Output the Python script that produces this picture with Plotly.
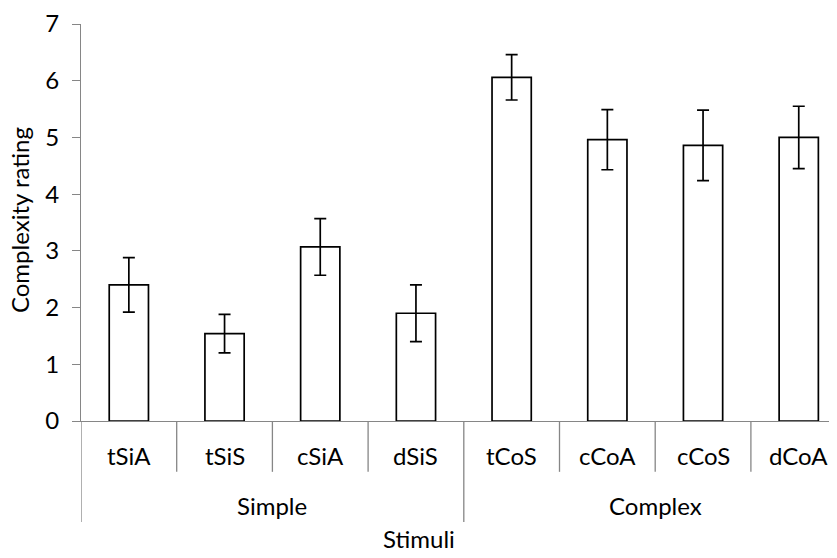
import plotly.graph_objects as go

categories = ["tSiA", "tSiS", "cSiA", "dSiS", "tCoS", "cCoA", "cCoS", "dCoA"]
groups = ["Simple", "Complex"]
group_sizes = [4, 4]
means = [2.40, 1.54, 3.07, 1.90, 6.06, 4.96, 4.86, 5.00]
errors = [0.48, 0.34, 0.50, 0.50, 0.40, 0.53, 0.62, 0.55]
y_ticks = [0, 1, 2, 3, 4, 5, 6, 7]

FONT = "Lato"
FS = 24
GRAY = "#868686"

OFF = 8  # page body margin
W, H = 837 - OFF, 558 - OFF
ML, MT, MB = 81 - OFF, 18 - OFF, 137
plot_h = H - MT - MB
plot_w = W - ML
cat_px = 95.7

xs = list(range(len(categories)))

fig = go.Figure()
fig.add_trace(go.Bar(
    x=xs, y=means, width=0.41,
    marker=dict(color="white", line=dict(color="black", width=1.7)),
    error_y=dict(type="data", array=errors, visible=True, color="black", thickness=1.7, width=6),
    showlegend=False,
))

shapes = []
annotations = []
inner_len = 51.6 / plot_h
outer_len = 102.6 / plot_h

bounds = []
start = 0
for gs in group_sizes:
    bounds.append(start - 0.5)
    start += gs
bounds.append(start - 0.5)
for i in range(len(categories) - 1):
    b = i + 0.5
    if b not in bounds:
        shapes.append(dict(type="line", xref="x", yref="paper", x0=b, x1=b, y0=0, y1=-inner_len,
                           line=dict(color=GRAY, width=1.3)))
for b in bounds:
    shapes.append(dict(type="line", xref="x", yref="paper", x0=b, x1=b, y0=0, y1=-outer_len,
                       line=dict(color=GRAY, width=1.3)))

for i, c in enumerate(categories):
    annotations.append(dict(x=i, y=-34.7 / plot_h, xref="x", yref="paper", text=c, showarrow=False,
                            font=dict(family=FONT, size=FS, color="black"),
                            xanchor="center", yanchor="middle"))
start = 0
for g, gs in zip(groups, group_sizes):
    cx = start + (gs - 1) / 2
    annotations.append(dict(x=cx, y=-85.7 / plot_h, xref="x", yref="paper", text=g, showarrow=False,
                            font=dict(family=FONT, size=FS, color="black"),
                            xanchor="center", yanchor="middle"))
    start += gs

annotations.append(dict(x=(418.5 - 81) / plot_w, y=-119.0 / plot_h, xref="paper", yref="paper",
                        text="Stimuli", showarrow=False, font=dict(family=FONT, size=FS, color="black"),
                        xanchor="center", yanchor="middle"))
annotations.append(dict(x=(19 - 81) / plot_w, y=(421 - 217) / plot_h, xref="paper", yref="paper",
                        text="Complexity rating", textangle=-90, showarrow=False,
                        font=dict(family=FONT, size=FS, color="black"),
                        xanchor="center", yanchor="middle", borderpad=0))

x_hi = -0.5 + plot_w / cat_px

fig.update_layout(
    width=W, height=H,
    margin=dict(l=ML, r=0, t=MT, b=MB, pad=0),
    paper_bgcolor="white", plot_bgcolor="white",
    font=dict(family=FONT, size=FS, color="black"),
    xaxis=dict(range=[-0.5, x_hi], showticklabels=False, ticks="", showgrid=False, zeroline=False,
               showline=True, linecolor=GRAY, linewidth=1.3, fixedrange=True),
    yaxis=dict(range=[0, 7], tickvals=y_ticks, ticks="outside", ticklen=8, tickcolor=GRAY, tickwidth=1.3,
               showgrid=False, zeroline=False, showline=True, linecolor=GRAY, linewidth=1.3,
               ticklabelstandoff=8, ticklabeloverflow="allow",
               tickfont=dict(family=FONT, size=FS, color="black")),
    shapes=shapes, annotations=annotations,
)

fig.write_html("out.html")
